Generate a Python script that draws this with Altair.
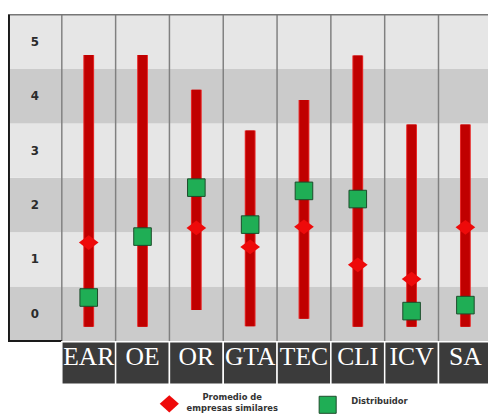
import altair as alt
import pandas as pd

# ---- data ----
categories = ["EAR", "OE", "OR", "GTA", "TEC", "CLI", "ICV", "SA"]
range_low = [-0.24, -0.24, 0.07, -0.23, -0.09, -0.24, -0.24, -0.24]
range_high = [4.76, 4.76, 4.12, 3.37, 3.93, 4.75, 3.48, 3.48]
promedio = [1.31, None, 1.58, 1.23, 1.60, 0.90, 0.64, 1.59]
distribuidor = [0.30, 1.42, 2.32, 1.64, 2.26, 2.11, 0.05, 0.16]
row_labels = [0, 1, 2, 3, 4, 5]
legend_labels = ["Promedio de\nempresas similares", "Distribuidor"]

W, H = 488, 410
xs = alt.Scale(domain=[-1.0, 7.92], nice=False, zero=False)
# plot y = 307.5 - 55.3 * v
ys = alt.Scale(domain=[(307.5 - H) / 55.3, 307.5 / 55.3], nice=False, zero=False)

df = pd.DataFrame({
    "cat": categories,
    "idx": list(range(len(categories))),
    "low": range_low,
    "high": range_high,
    "prom": promedio,
    "dist": distribuidor,
})
df["center"] = df["idx"] + 0.5
df["right"] = df["idx"] + 1

rows = pd.DataFrame({"row": row_labels})
rows["lo"] = rows["row"] - 0.5
rows["hi"] = rows["row"] + 0.5
rows["lx"] = -0.5

bounds = pd.DataFrame({"b": list(range(len(categories) + 1))})
bounds["top"] = max(row_labels) + 0.5
bounds["bot"] = min(row_labels) - 0.5

leg = pd.DataFrame({"label": legend_labels})

def X(f):
    return alt.X(f, type="quantitative", scale=xs, axis=None)

def Y(f):
    return alt.Y(f, type="quantitative", scale=ys, axis=None)

bands = alt.Chart(rows).mark_rect().encode(
    x=alt.value(0), x2=alt.value(W),
    y=Y("lo"), y2="hi",
    color=alt.condition("datum.row % 2 == 1", alt.value("#e6e6e6"), alt.value("#cbcbcb")),
)

vlines = alt.Chart(bounds).mark_rule(color="#808080", strokeWidth=1.5).encode(
    x=X("b"), y=Y("bot"), y2="top"
)

top_line = alt.Chart(rows).transform_filter("datum.row == 5").mark_rule(
    color="#777777", strokeWidth=1.5).encode(
    x=alt.value(0), x2=alt.value(W), y=Y("hi")
)

left_line = alt.Chart(rows).transform_filter("datum.row == 5").mark_rule(
    color="#1a1a1a", strokeWidth=2).encode(
    x=alt.value(1), y=Y("hi"), y2=alt.value(336)
)

bottom_line = alt.Chart(rows).transform_filter("datum.row == 0").mark_rule(
    color="#1a1a1a", strokeWidth=2).encode(
    x=alt.value(0), x2=alt.value(55), y=Y("lo")
)

row_text = alt.Chart(rows).mark_text(
    font="DejaVu Sans", fontWeight="bold", fontSize=12, color="#2b2b2b",
    baseline="middle", align="center").encode(
    x=X("lx"), y=Y("row"), text="row:N"
)

bar_edge = alt.Chart(df).mark_rule(color="#e82a2a", strokeWidth=11).encode(
    x=X("center"), y=Y("low"), y2="high"
)
bar_core = alt.Chart(df).mark_rule(color="#c00000", strokeWidth=9).encode(
    x=X("center"), y=Y("low"), y2="high"
)

diamonds = alt.Chart(df).transform_filter("isValid(datum.prom)").mark_point(
    shape="M -1 0 L 0 -0.75 L 1 0 L 0 0.75 Z", filled=True, size=400,
    color="#ee0a0a", opacity=1).encode(
    x=X("center"), y=Y("prom")
)

squares = alt.Chart(df).mark_point(
    shape="square", filled=True, size=320, fill="#1fae55", stroke="#1c4a2a",
    strokeWidth=1, opacity=1).encode(
    x=X("center"), y=Y("dist")
)

label_boxes = alt.Chart(df).mark_rect(color="#3b3b3b", stroke="white", strokeWidth=1.5).encode(
    x=X("idx"), x2="right", y=alt.value(336), y2=alt.value(379)
)

label_text = alt.Chart(df).mark_text(
    font="Liberation Serif", fontSize=26, color="white", baseline="alphabetic",
    align="center").encode(
    x=X("center"), y=alt.value(360), text="cat:N"
)

leg_diamond = alt.Chart(leg).transform_filter("indexof(datum.label, 'Promedio') == 0").mark_point(
    shape="M -1 0 L 0 -0.9 L 1 0 L 0 0.9 Z", filled=True, size=380,
    color="#ee0a0a", opacity=1).encode(x=alt.value(164), y=alt.value(399))

leg_square = alt.Chart(leg).transform_filter("datum.label == 'Distribuidor'").mark_point(
    shape="square", filled=True, size=300, fill="#1fae55", stroke="#1c4a2a",
    strokeWidth=1, opacity=1).encode(x=alt.value(325), y=alt.value(400))

leg_text1 = alt.Chart(leg).transform_filter("indexof(datum.label, 'Promedio') == 0").mark_text(
    font="DejaVu Sans", fontWeight="bold", fontSize=8.5, color="#333333",
    align="center", baseline="middle", lineBreak="\n", lineHeight=11).encode(
    x=alt.value(228), y=alt.value(392), text="label:N")

leg_text2 = alt.Chart(leg).transform_filter("datum.label == 'Distribuidor'").mark_text(
    font="DejaVu Sans", fontWeight="bold", fontSize=8.5, color="#333333",
    align="left", baseline="middle").encode(
    x=alt.value(349), y=alt.value(396), text="label:N")

chart = alt.layer(
    bands, vlines, top_line, left_line, bottom_line, row_text,
    bar_edge, bar_core, diamonds, squares, label_boxes, label_text,
    leg_diamond, leg_square, leg_text1, leg_text2,
).properties(
    width=W, height=H, autosize=alt.AutoSizeParams(type="none"), padding=0,
    background="white",
).configure_view(stroke=None)

chart.save("out.html", embed_options={"renderer": "svg", "actions": False})
